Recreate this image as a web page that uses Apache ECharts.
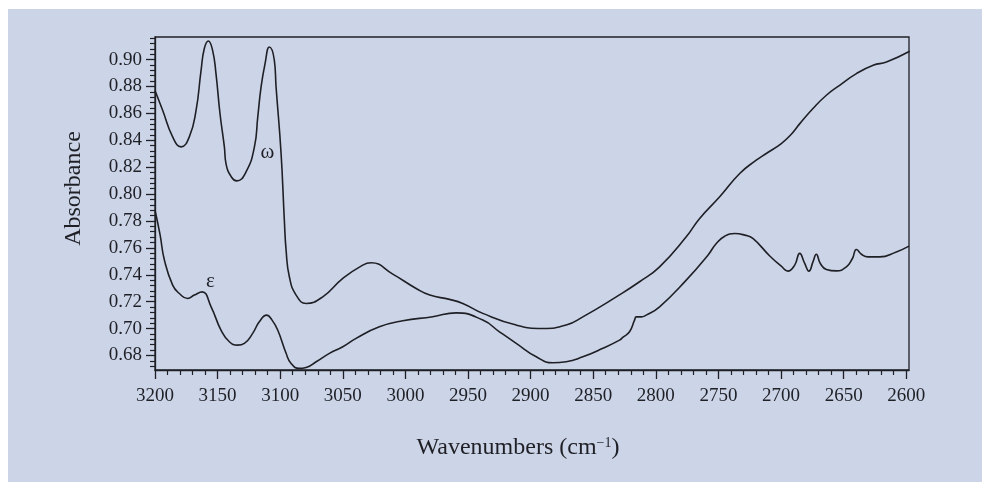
<!DOCTYPE html>
<html>
<head>
<meta charset="utf-8">
<script src="https://cdn.jsdelivr.net/npm/echarts@6/dist/echarts.min.js"></script>
<style>
  html, body { margin: 0; padding: 0; background: #ffffff; }
  #paper { position: absolute; left: 8px; top: 9px; width: 974px; height: 473px; background: #ccd4e7; }
  #chart { position: absolute; left: 0; top: 0; width: 982px; height: 482px; }
</style>
</head>
<body>
<div id="paper"></div>
<div id="chart"></div>
<script>
// Upper spectrum (omega)
const omegaWave = [3200, 3193.9, 3185.9, 3179.2, 3172.6, 3167.2, 3163.2, 3160.6, 3157.4, 3154.0,
  3151.3, 3148.1, 3144.6, 3143.3, 3139.0, 3134.8, 3127.3, 3120.6, 3117.9, 3115.3,
  3112.1, 3108.7, 3104.7, 3103.3, 3099.3, 3096.7, 3095.3, 3092.7, 3087.3, 3079.3,
  3066.0, 3050.0, 3034.1, 3027.4, 3010.1, 2991.4, 2980.5, 2964.8, 2954.2,
  2938.2, 2911.5, 2890.3, 2871.6, 2858.3, 2831.6, 2813.0, 2797.0, 2775.7, 2765.0,
  2749.0, 2733.0, 2719.8, 2711.8, 2699.8, 2691.8, 2685.0, 2674.5, 2663.8, 2653.2, 2639.8,
  2626.4, 2615.8, 2597.3];
const omegaAbs = [0.877, 0.8623, 0.8425, 0.8351, 0.8425, 0.8623, 0.892, 0.9082, 0.9138, 0.9069,
  0.8896, 0.8599, 0.8351, 0.8227, 0.8127, 0.8098, 0.8165, 0.8351, 0.8576, 0.8796,
  0.897, 0.9094, 0.8995, 0.8796, 0.8302, 0.7806, 0.7583, 0.7385, 0.7249, 0.7187,
  0.7236, 0.7373, 0.7472, 0.7489, 0.7405, 0.7298, 0.7249, 0.7217, 0.7187,
  0.7113, 0.7026, 0.7001, 0.7026, 0.7087, 0.7236, 0.7348, 0.7459, 0.7682, 0.7819,
  0.7980, 0.8153, 0.8252, 0.8302, 0.8376, 0.8445, 0.8524, 0.8636, 0.8735, 0.8809, 0.8896,
  0.8958, 0.8982, 0.9062];

// Lower spectrum (epsilon)
const epsilonWave = [3200, 3196.0, 3192.5, 3185.9, 3180.6, 3173.9, 3168.6, 3162.4, 3155.2, 3147.3,
  3140.6, 3134.0, 3128.6, 3122.0, 3116.7, 3110.8, 3106.5, 3102.0, 3095.3, 3091.3,
  3085.0, 3079.3, 3071.3, 3060.7, 3050.0, 3039.4, 3020.8, 3002.1, 2978.2, 2959.5,
  2938.2, 2924.9, 2911.5, 2895.5, 2882.3, 2871.6, 2858.3, 2842.3, 2829.0, 2826.4,
  2821.0, 2817.0, 2815.6, 2811.7, 2807.7, 2797.0, 2775.7, 2758.4, 2751.7, 2745.0,
  2737.0, 2729.0, 2722.5, 2709.0, 2699.8, 2694.5, 2689.1, 2685.1, 2681.1, 2677.7,
  2674.5, 2671.8, 2668.6, 2663.8, 2655.8, 2647.8, 2643.0, 2639.8, 2635.8, 2630.6,
  2621.3, 2607.9, 2597.8];
const epsilonAbs = [0.788, 0.770, 0.751, 0.7323, 0.7261, 0.7224, 0.7249, 0.7273, 0.7162, 0.6989,
  0.6902, 0.6877, 0.6890, 0.6964, 0.7050, 0.7100, 0.7063, 0.6989, 0.6816, 0.6741,
  0.6704, 0.6711, 0.6753, 0.6816, 0.6865, 0.6927, 0.7013, 0.7058, 0.7088, 0.7117,
  0.7063, 0.6976, 0.6890, 0.6790, 0.6746, 0.6753, 0.6790, 0.6853, 0.6914, 0.6934,
  0.6976, 0.7063, 0.7087, 0.7087, 0.7100, 0.7162, 0.7360, 0.7546, 0.7633, 0.7687,
  0.7707, 0.7695, 0.7670, 0.7540, 0.7464, 0.7427, 0.7472, 0.7559, 0.7484, 0.7427,
  0.7496, 0.7553, 0.7484, 0.7440, 0.7429, 0.7459, 0.7521, 0.7588, 0.7553, 0.7533,
  0.7533, 0.7570, 0.7613];

// Axis ticks and labels
const xMajorTicks = [3200, 3150, 3100, 3050, 3000, 2950, 2900, 2850, 2800, 2750, 2700, 2650, 2600];
const xMinorTicks = [3190, 3180, 3170, 3160, 3140, 3130, 3120, 3110, 3090, 3080, 3070, 3060,
  3040, 3030, 3020, 3010, 2990, 2980, 2970, 2960, 2940, 2930, 2920, 2910, 2890, 2880, 2870, 2860,
  2840, 2830, 2820, 2810, 2790, 2780, 2770, 2760, 2740, 2730, 2720, 2710, 2690, 2680, 2670, 2660,
  2640, 2630, 2620, 2610];
const yMajorTicks = [0.68, 0.70, 0.72, 0.74, 0.76, 0.78, 0.80, 0.82, 0.84, 0.86, 0.88, 0.90];
const yMinorTicks = [0.672, 0.676, 0.684, 0.688, 0.692, 0.696, 0.704, 0.708, 0.712, 0.716,
  0.724, 0.728, 0.732, 0.736, 0.744, 0.748, 0.752, 0.756, 0.764, 0.768, 0.772, 0.776,
  0.784, 0.788, 0.792, 0.796, 0.804, 0.808, 0.812, 0.816, 0.824, 0.828, 0.832, 0.836,
  0.844, 0.848, 0.852, 0.856, 0.864, 0.868, 0.872, 0.876, 0.884, 0.888, 0.892, 0.896,
  0.904, 0.908, 0.912, 0.916];

const X_MIN = 2597.8, X_MAX = 3200;
const Y_MIN = 0.6692, Y_MAX = 0.9168;

const INK = '#1f2026';
const FONT = 'Liberation Serif';

function pairs(xs, ys) { return xs.map((x, i) => [x, ys[i]]); }

const chart = echarts.init(document.getElementById('chart'), null, { renderer: 'canvas' });

const baseX = {
  type: 'value', min: X_MIN, max: X_MAX, inverse: true, position: 'bottom',
  splitLine: { show: false }
};
const baseY = {
  type: 'value', min: Y_MIN, max: Y_MAX, position: 'left',
  splitLine: { show: false }
};

chart.setOption({
  backgroundColor: 'transparent',
  animation: false,
  grid: {
    left: 155, top: 37, right: 73, bottom: 112,
    show: true, borderColor: INK, borderWidth: 1.3, backgroundColor: 'transparent'
  },
  xAxis: [
    Object.assign({}, baseX, {
      name: 'Wavenumbers (cm{sup|\u22121})',
      nameLocation: 'middle',
      nameGap: 66,
      nameTextStyle: {
        fontFamily: FONT, fontSize: 24, color: INK, padding: [0, 28, 0, 0],
        rich: { sup: { fontFamily: FONT, fontSize: 14, color: INK, verticalAlign: 'top', padding: [0, 0, 9, 0] } }
      },
      axisLine: { show: true, lineStyle: { color: INK, width: 1.3 } },
      axisTick: { show: true, customValues: xMajorTicks, length: 9, inside: false, lineStyle: { color: INK, width: 1.3 } },
      axisLabel: { show: true, customValues: xMajorTicks, margin: 17, fontFamily: FONT, fontSize: 19, color: INK,
        formatter: v => String(Math.round(v)) }
    }),
    Object.assign({}, baseX, {
      axisLine: { show: false },
      axisTick: { show: true, customValues: xMinorTicks, length: 5, lineStyle: { color: INK, width: 1.2 } },
      axisLabel: { show: false }
    })
  ],
  yAxis: [
    Object.assign({}, baseY, {
      name: 'Absorbance',
      nameLocation: 'middle',
      nameGap: 69,
      nameRotate: 90,
      nameTextStyle: { fontFamily: FONT, fontSize: 24, color: INK, padding: [0, 0, 0, 30] },
      axisLine: { show: true, lineStyle: { color: INK, width: 1.3 } },
      axisTick: { show: true, customValues: yMajorTicks, length: 9, lineStyle: { color: INK, width: 1.3 } },
      axisLabel: { show: true, customValues: yMajorTicks, margin: 13, fontFamily: FONT, fontSize: 19, color: INK,
        formatter: v => v.toFixed(2) }
    }),
    Object.assign({}, baseY, {
      axisLine: { show: false },
      axisTick: { show: true, customValues: yMinorTicks, length: 5, lineStyle: { color: INK, width: 1.2 } },
      axisLabel: { show: false }
    })
  ],
  series: [
    {
      name: '\u03c9', type: 'line', xAxisIndex: 0, yAxisIndex: 0,
      data: pairs(omegaWave, omegaAbs),
      showSymbol: false, smooth: 0.5,
      lineStyle: { color: INK, width: 1.6 },
      markPoint: {
        symbol: 'circle', symbolSize: 0, silent: true,
        label: { show: true, position: 'inside', formatter: '\u03c9', fontFamily: FONT, fontSize: 21, color: INK },
        data: [{ coord: [3110.3, 0.8311] }]
      }
    },
    {
      name: '\u03b5', type: 'line', xAxisIndex: 0, yAxisIndex: 0,
      data: pairs(epsilonWave, epsilonAbs),
      showSymbol: false, smooth: 0.5,
      lineStyle: { color: INK, width: 1.6 },
      markPoint: {
        symbol: 'circle', symbolSize: 0, silent: true,
        label: { show: true, position: 'inside', formatter: '\u03b5', fontFamily: FONT, fontSize: 21, color: INK },
        data: [{ coord: [3155.8, 0.7353] }]
      }
    }
  ]
});
</script>
</body>
</html>
